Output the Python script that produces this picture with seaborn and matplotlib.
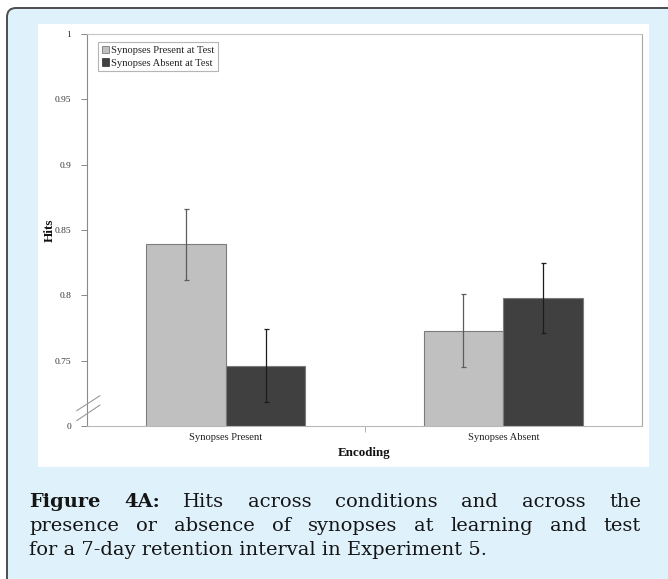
import matplotlib
matplotlib.use("Agg")
import matplotlib.pyplot as plt
import seaborn as sns
import pandas as pd
from matplotlib.patches import FancyBboxPatch, Rectangle, Patch
from matplotlib.transforms import IdentityTransform

# ---- data -------------------------------------------------------------
encoding = ["Synopses Present", "Synopses Absent"]
test_conditions = ["Synopses Present at Test", "Synopses Absent at Test"]
hits_present_test = [0.839, 0.773]
hits_absent_test = [0.746, 0.798]
err_present_test = [0.027, 0.028]
err_absent_test = [0.028, 0.027]
ytick_values = [0.70, 0.75, 0.80, 0.85, 0.90, 0.95, 1.00]
ytick_labels = ["0", "0.75", "0.8", "0.85", "0.9", "0.95", "1"]

caption_lines = [
    [("Figure", True), ("4A:", True), ("Hits", False), ("across", False),
     ("conditions", False), ("and", False), ("across", False), ("the", False)],
    [("presence", False), ("or", False), ("absence", False), ("of", False),
     ("synopses", False), ("at", False), ("learning", False), ("and", False),
     ("test", False)],
]
caption_last = "for a 7-day retention interval in Experiment 5."

df = pd.DataFrame({
    "Encoding": encoding * 2,
    "Test": [test_conditions[0]] * 2 + [test_conditions[1]] * 2,
    "Hits": hits_present_test + hits_absent_test,
})

# ---- figure -----------------------------------------------------------
sns.set_style("white")
W, H = 668, 579
fig = plt.figure(figsize=(W / 100, H / 100), dpi=100)
fig.patch.set_facecolor("white")
px = IdentityTransform()

# light blue card with dark rounded border
card = FancyBboxPatch((7, -30), 720, H - 8 + 30,
                      boxstyle="round,pad=0,rounding_size=9",
                      facecolor="#dff1fb", edgecolor="#4d4d4d", linewidth=1.4,
                      transform=px, zorder=0)
fig.patches.append(card)
# white chart panel
panel = Rectangle((38, H - 467), 611, 443, facecolor="white",
                  edgecolor="none", transform=px, zorder=1)
fig.patches.append(panel)

ax = fig.add_axes([87 / W, (H - 426) / H, 555 / W, 392 / H])
ax.set_zorder(2)
ax.patch.set_facecolor("white")

serif = "Liberation Serif"
sns.barplot(data=df, x="Encoding", y="Hits", hue="Test",
            order=encoding, hue_order=test_conditions,
            palette=["#c0c0c0", "#404040"], width=0.573, saturation=1,
            errorbar=None, edgecolor="#7c7c7c", linewidth=0.8, ax=ax)

errs = [err_present_test, err_absent_test]
ecolors = ["#5c5c5c", "#1c1c1c"]
for cont, e, c in zip(ax.containers, errs, ecolors):
    xs = [p.get_x() + p.get_width() / 2 for p in cont]
    ys = [p.get_height() for p in cont]
    ax.errorbar(xs, ys, yerr=e, fmt="none", ecolor=c, elinewidth=0.9,
                capsize=1.8, capthick=0.9, zorder=3)

ax.set_xlim(-0.5, 1.5)
ax.set_ylim(0.7, 1.0)
ax.set_yticks(ytick_values)
ax.set_yticklabels(ytick_labels, family=serif, fontsize=6.8, color="#333333")
ax.tick_params(axis="y", direction="out", length=4, width=0.7,
               color="#8a8a8a", pad=7.5, left=True)
ax.tick_params(axis="x", which="major", length=0, pad=5)
for lab in ax.get_xticklabels():
    lab.set_family(serif)
    lab.set_fontsize(7.6)
    lab.set_color("#222222")
ax.set_xticks([0.5], minor=True)
ax.tick_params(axis="x", which="minor", direction="out", length=4,
               width=0.7, color="#b0b0b0", bottom=True)

ax.set_xlabel("Encoding", family=serif, fontsize=9.4, fontweight="bold",
              color="#111111", labelpad=3.5)
ax.set_ylabel("Hits", family=serif, fontsize=9.5, fontweight="bold",
              color="#111111", labelpad=-1)

for side, col in [("left", "#8a8a8a"), ("top", "#c4c4c4"),
                  ("right", "#a9a9a9"), ("bottom", "#b8b8b8")]:
    ax.spines[side].set_visible(True)
    ax.spines[side].set_color(col)
    ax.spines[side].set_linewidth(0.8)

# axis-break marks on the value axis
for y0, y1 in [(0.039, 0.0773), (0.0135, 0.0536)]:
    ax.plot([-0.0186, 0.0234], [y0, y1], transform=ax.transAxes,
            color="#9a9a9a", lw=0.8, clip_on=False, zorder=4)

handles = [Patch(facecolor="#c0c0c0", edgecolor="#7c7c7c", linewidth=0.6),
           Patch(facecolor="#404040", edgecolor="#404040", linewidth=0.6)]
leg = ax.legend(handles=handles, labels=test_conditions, loc="upper left",
                bbox_to_anchor=(0.0198, 0.9796), borderaxespad=0,
                frameon=True, fancybox=False, edgecolor="#b5b5b5",
                framealpha=1, handlelength=0.7, handleheight=0.7,
                handletextpad=0.15, borderpad=0.35, labelspacing=0.3,
                prop=dict(family=serif, size=7.6))
leg.get_frame().set_linewidth(0.8)
for t in leg.get_texts():
    t.set_color("#222222")

# ---- caption (justified) ---------------------------------------------
cap_font = dict(family="DejaVu Serif", fontsize=14, color="#151515")
renderer = fig.canvas.get_renderer()
x_left, x_right = 29, 641
baselines = [506.7, 530.9, 555.3]
for words, base in zip(caption_lines, baselines[:2]):
    texts = [fig.text(0, 0, w, transform=px, va="baseline", ha="left",
                      fontweight="bold" if b else "normal", **cap_font)
             for w, b in words]
    widths = [t.get_window_extent(renderer).width for t in texts]
    gap = (x_right - x_left - sum(widths)) / (len(texts) - 1)
    x = x_left
    for t, w in zip(texts, widths):
        t.set_position((x, H - base))
        x += w + gap
fig.text(x_left, H - baselines[2], caption_last, transform=px,
         va="baseline", ha="left", **cap_font)

fig.savefig("out.png", dpi=100)
